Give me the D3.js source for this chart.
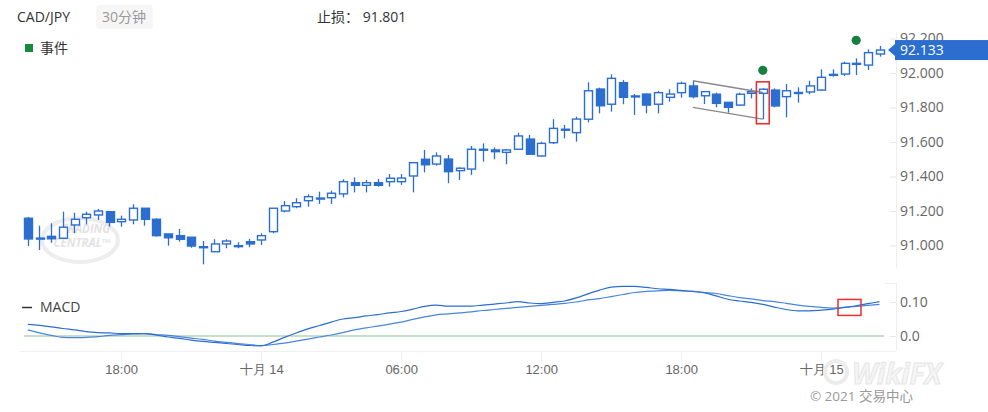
<!DOCTYPE html>
<html>
<head>
<meta charset="utf-8">
<script src="https://cdn.jsdelivr.net/npm/d3@7"></script>
<style>
  body { margin: 0; background: #fff; }
  svg { display: block; font-family: "Open Sans", "Noto Sans CJK SC", sans-serif; }
</style>
</head>
<body>
<svg id="chart" width="988" height="412"></svg>
<script>
// CAD/JPY 30 min candles, 2021-10-13 14:00 onwards
const symbol = 'CAD/JPY'
const period = '30分钟'
const stopLoss = 91.801
const startTime = '2021-10-13T14:00'

const open = [
  91.158, 91.043, 91.053, 91.042, 91.119, 91.161, 91.177, 91.196, 91.138, 91.148,
  91.216, 91.152, 91.067, 91.057, 91.048, 90.993, 90.964, 91.009, 90.999, 91.022,
  91.032, 91.080, 91.200, 91.225, 91.260, 91.275, 91.277, 91.299, 91.364, 91.349,
  91.364, 91.370, 91.370, 91.403, 91.500, 91.472, 91.501, 91.434, 91.443, 91.558,
  91.554, 91.540, 91.558, 91.617, 91.519, 91.596, 91.674, 91.654, 91.732, 91.907,
  91.819, 91.944, 91.867, 91.878, 91.819, 91.859, 91.886, 91.925, 91.868, 91.877,
  91.830, 91.814, 91.882, 91.882, 91.901, 91.863, 91.887, 91.890, 91.901, 91.992,
  91.994, 92.056, 92.046, 92.110
]
const high = [
  91.165, 91.115, 91.129, 91.196, 91.190, 91.196, 91.212, 91.200, 91.173, 91.239,
  91.217, 91.158, 91.067, 91.096, 91.049, 91.026, 91.036, 91.036, 91.019, 91.038,
  91.071, 91.216, 91.258, 91.274, 91.297, 91.312, 91.318, 91.384, 91.395, 91.380,
  91.386, 91.414, 91.414, 91.480, 91.554, 91.540, 91.525, 91.453, 91.577, 91.592,
  91.569, 91.558, 91.654, 91.641, 91.602, 91.732, 91.699, 91.747, 91.946, 91.915,
  91.992, 91.959, 91.878, 91.881, 91.896, 91.906, 91.950, 91.954, 91.896, 91.886,
  91.832, 91.886, 91.911, 91.911, 91.911, 91.936, 91.917, 91.955, 92.021, 92.021,
  92.066, 92.085, 92.137, 92.157
]
const low = [
  90.997, 90.974, 91.016, 91.040, 91.071, 91.123, 91.148, 91.109, 91.109, 91.123,
  91.115, 91.052, 90.999, 91.022, 90.987, 90.891, 90.964, 90.984, 90.984, 90.990,
  91.003, 91.071, 91.192, 91.216, 91.225, 91.241, 91.241, 91.279, 91.308, 91.308,
  91.341, 91.341, 91.351, 91.308, 91.424, 91.463, 91.361, 91.380, 91.409, 91.486,
  91.500, 91.471, 91.554, 91.525, 91.515, 91.588, 91.621, 91.602, 91.714, 91.766,
  91.776, 91.819, 91.757, 91.766, 91.766, 91.834, 91.857, 91.853, 91.820, 91.801,
  91.770, 91.809, 91.853, 91.732, 91.801, 91.743, 91.828, 91.877, 91.896, 91.979,
  91.983, 91.988, 92.017, 92.095
]
const close = [
  91.038, 91.042, 91.039, 91.106, 91.152, 91.181, 91.200, 91.134, 91.152, 91.216,
  91.152, 91.057, 91.045, 91.036, 90.997, 90.993, 91.009, 91.026, 90.999, 91.009,
  91.057, 91.216, 91.231, 91.248, 91.283, 91.274, 91.303, 91.370, 91.349, 91.364,
  91.349, 91.390, 91.391, 91.480, 91.468, 91.519, 91.428, 91.448, 91.558, 91.558,
  91.544, 91.554, 91.635, 91.529, 91.592, 91.679, 91.674, 91.733, 91.897, 91.810,
  91.969, 91.859, 91.867, 91.814, 91.886, 91.878, 91.940, 91.863, 91.892, 91.824,
  91.801, 91.877, 91.892, 91.906, 91.809, 91.897, 91.886, 91.925, 91.975, 91.992,
  92.056, 92.056, 92.118, 92.133
]

const macd = [
  0.034, 0.031, 0.027, 0.022, 0.018, 0.013, 0.010, 0.009, 0.007, 0.007,
  0.007, 0.003, -0.003, -0.007, -0.012, -0.016, -0.019, -0.022, -0.025, -0.028,
  -0.029, -0.018, -0.004, 0.009, 0.021, 0.031, 0.041, 0.050, 0.054, 0.059,
  0.063, 0.068, 0.072, 0.079, 0.087, 0.091, 0.088, 0.088, 0.088, 0.091,
  0.094, 0.097, 0.101, 0.097, 0.095, 0.099, 0.103, 0.112, 0.124, 0.135,
  0.144, 0.146, 0.146, 0.143, 0.139, 0.137, 0.134, 0.131, 0.127, 0.118,
  0.108, 0.103, 0.099, 0.093, 0.085, 0.078, 0.074, 0.074, 0.076, 0.079,
  0.084, 0.089, 0.095, 0.101
]
const signal = [
  0.018, 0.009, 0.002, -0.004, -0.005, -0.004, -0.002, 0.002, 0.004, 0.006,
  0.007, 0.004, 0.002, -0.002, -0.006, -0.010, -0.015, -0.019, -0.022, -0.025,
  -0.028, -0.025, -0.021, -0.015, -0.009, -0.003, 0.003, 0.010, 0.018, 0.024,
  0.029, 0.035, 0.041, 0.049, 0.056, 0.062, 0.065, 0.068, 0.071, 0.075,
  0.078, 0.081, 0.084, 0.087, 0.090, 0.093, 0.096, 0.100, 0.106, 0.110,
  0.116, 0.122, 0.128, 0.131, 0.133, 0.134, 0.133, 0.131, 0.128, 0.125,
  0.119, 0.113, 0.109, 0.104, 0.101, 0.096, 0.091, 0.087, 0.084, 0.082,
  0.084, 0.087, 0.090, 0.093
]

const priceTicks = [91.0, 91.2, 91.4, 91.6, 91.8, 92.0, 92.2]
const macdTicks = [0, 0.1]
const timeTicks = ['2021-10-13T18:00', '2021-10-14T00:00', '2021-10-14T06:00',
                   '2021-10-14T12:00', '2021-10-14T18:00', '2021-10-15T00:00']
const eventCandles = [63, 71]          // green event dots
const markedCandle = 63                // red box
const channelUpper = [[57, 91.955], [63, 91.887]]
const channelLower = [[57, 91.801], [63, 91.733]]
const macdCross = 70

const blue = '#2c6ed0'
const svg = d3.select('#chart')
const parse = d3.timeParse('%Y-%m-%dT%H:%M')
const t0 = parse(startTime)
const times = open.map((d, i) => d3.timeMinute.offset(t0, 30 * i))
const candles = open.map((o, i) => ({i, t: times[i], o, h: high[i], l: low[i], c: close[i]}))

// scales
let x = d3.scaleTime().domain([times[0], times[times.length - 1]]).range([27.8, 879.5])
let y = d3.scaleLinear().domain([91.0, 92.2]).range([245.5, 38.5])
let yM = d3.scaleLinear().domain([0, 0.1]).range([336, 302])
const step = x(times[1]) - x(times[0])
const bw = step * 0.66
const xi = i => x(times[i])

// header
svg.append('text').attr('x', 17).attr('y', 22).attr('font-size', 14).attr('fill', '#333').text(symbol)
svg.append('rect').attr('x', 96).attr('y', 5).attr('width', 57).attr('height', 24).attr('rx', 4).attr('fill', '#f6f6f6')
svg.append('text').attr('x', 102).attr('y', 22).attr('font-size', 14).attr('fill', '#999').text(period)
svg.append('text').attr('x', 317).attr('y', 22).attr('font-size', 14).attr('fill', '#333')
  .text('止损： ' + stopLoss.toFixed(3))
svg.append('rect').attr('x', 25).attr('y', 44).attr('width', 8).attr('height', 8).attr('fill', '#178a40')
svg.append('text').attr('x', 40).attr('y', 53).attr('font-size', 14).attr('fill', '#333').text('事件')

// trading central watermark
let wm = svg.append('g')
wm.append('ellipse').attr('cx', 80).attr('cy', 240).attr('rx', 38).attr('ry', 22)
  .attr('fill', 'none').attr('stroke', '#ededed').attr('stroke-width', 4)
wm.append('text').attr('x', 86).attr('y', 233).attr('text-anchor', 'middle').attr('font-size', 11.5)
  .attr('font-weight', 'bold').attr('font-style', 'italic').attr('fill', '#e3e3e3').text('TRADING')
wm.append('text').attr('x', 82).attr('y', 247).attr('text-anchor', 'middle').attr('font-size', 11.5)
  .attr('font-weight', 'bold').attr('font-style', 'italic').attr('fill', '#e3e3e3').text('CENTRAL™')

// axis frame lines
svg.append('line').attr('x1', 896.5).attr('x2', 896.5).attr('y1', 33).attr('y2', 268).attr('stroke', '#eee')
svg.append('line').attr('x1', 896.5).attr('x2', 896.5).attr('y1', 283).attr('y2', 351).attr('stroke', '#eee')
svg.append('line').attr('x1', 884).attr('x2', 896).attr('y1', 283.5).attr('y2', 283.5).attr('stroke', '#eee')
svg.append('line').attr('x1', 20).attr('x2', 896).attr('y1', 351.5).attr('y2', 351.5).attr('stroke', '#f0f0f0')

// price axis
let yAxis = d3.axisRight(y).tickValues(priceTicks).tickFormat(d3.format('.3f')).tickSize(6).tickPadding(4)
let ga = svg.append('g').attr('transform', 'translate(890,0)').call(yAxis)
ga.select('.domain').remove()
ga.selectAll('line').attr('stroke', '#e6e6e6')
ga.selectAll('text').attr('fill', '#666').attr('font-size', 14).attr('font-family', 'Open Sans')

// macd axis
let mAxis = d3.axisRight(yM).tickValues(macdTicks).tickFormat(d => d === 0 ? '0.0' : d.toFixed(2)).tickSize(6).tickPadding(4)
let gm = svg.append('g').attr('transform', 'translate(890,0)').call(mAxis)
gm.select('.domain').remove()
gm.selectAll('line').attr('stroke', '#e6e6e6')
gm.selectAll('text').attr('fill', '#666').attr('font-size', 14).attr('font-family', 'Open Sans')

// time axis
const fmtHM = d3.timeFormat('%H:%M')
let xAxis = d3.axisBottom(x).tickValues(timeTicks.map(parse))
  .tickFormat(d => d.getHours() === 0 ? '十月 ' + d.getDate() : fmtHM(d))
  .tickSize(12).tickPadding(2)
let gx = svg.append('g').attr('transform', 'translate(0,351)').call(xAxis)
gx.select('.domain').remove()
gx.selectAll('line').attr('stroke', '#f0f0f0')
gx.selectAll('text').attr('fill', '#666').attr('font-size', 13)

// candles
let gc = svg.append('g')
gc.selectAll('line.wick').data(candles).enter().append('line')
  .attr('x1', d => Math.round(x(d.t)) + 0.5).attr('x2', d => Math.round(x(d.t)) + 0.5)
  .attr('y1', d => y(d.h)).attr('y2', d => y(d.l))
  .attr('stroke', blue).attr('stroke-width', 1.3)
gc.selectAll('rect.body').data(candles).enter().append('rect')
  .attr('x', d => Math.round(x(d.t) - bw / 2) + 0.5)
  .attr('width', Math.round(bw))
  .attr('y', d => y(Math.max(d.o, d.c)))
  .attr('height', d => Math.max(1, Math.abs(y(d.o) - y(d.c))))
  .attr('fill', d => d.c > d.o ? '#fff' : blue)
  .attr('stroke', blue).attr('stroke-width', 1.4)

// channel drawn on chart
const lineP = d3.line().x(d => xi(d[0])).y(d => y(d[1]))
;[channelUpper, channelLower].forEach(seg => {
  svg.append('path').attr('d', lineP(seg)).attr('fill', 'none').attr('stroke', '#8a8a8a').attr('stroke-width', 1.3)
})

// marked candle box
let mc = candles[markedCandle]
svg.append('rect')
  .attr('x', xi(markedCandle) - step * 0.55).attr('width', step * 1.1)
  .attr('y', y(mc.h) - 6.5).attr('height', y(mc.l) - y(mc.h) + 11)
  .attr('fill', 'none').attr('stroke', '#e83030').attr('stroke-width', 1.6)

// events
svg.selectAll('circle.ev').data(eventCandles).enter().append('circle')
  .attr('cx', i => xi(i)).attr('cy', i => y(high[i]) - 18).attr('r', 4.6).attr('fill', '#168040')

// last price label
const last = close[close.length - 1]
let ly = y(last)
svg.append('path').attr('d', `M888,${ly} L895,${ly - 6} L895,${ly + 6} Z`).attr('fill', blue)
svg.append('rect').attr('x', 895).attr('y', ly - 10).attr('width', 93).attr('height', 20).attr('fill', blue)
svg.append('text').attr('x', 900).attr('y', ly + 5).attr('font-size', 14).attr('fill', '#fff')
  .attr('font-family', 'Open Sans').text(last.toFixed(3))

// MACD panel
svg.append('line').attr('x1', 22).attr('x2', 32).attr('y1', 307.5).attr('y2', 307.5).attr('stroke', '#333').attr('stroke-width', 1.5)
svg.append('text').attr('x', 40).attr('y', 312).attr('font-size', 14).attr('fill', '#444').text('MACD')
svg.append('line').attr('x1', 24).attr('x2', 884).attr('y1', yM(0)).attr('y2', yM(0))
  .attr('stroke', '#c8dec8').attr('stroke-width', 2)
const mline = d3.line().x((d, i) => xi(i)).y(d => yM(d)).curve(d3.curveMonotoneX)
svg.append('path').attr('d', mline(signal)).attr('fill', 'none').attr('stroke', '#4a85dc').attr('stroke-width', 1.2)
svg.append('path').attr('d', mline(macd)).attr('fill', 'none').attr('stroke', '#2c6ed0').attr('stroke-width', 1.2)
let cy = yM((macd[macdCross] + signal[macdCross]) / 2)
svg.append('rect').attr('x', xi(macdCross) - 6.5).attr('width', 23).attr('y', cy - 8).attr('height', 16)
  .attr('fill', 'none').attr('stroke', '#e83030').attr('stroke-width', 1.5)

// footer watermark
let wf = svg.append('g')
wf.append('circle').attr('cx', 836).attr('cy', 372).attr('r', 11).attr('fill', 'none').attr('stroke', '#ececec').attr('stroke-width', 4)
wf.append('text').attr('x', 852).attr('y', 384).attr('font-size', 28).attr('font-weight', 'bold').attr('font-style', 'italic')
  .attr('fill', '#f5f5f5').attr('stroke', '#e6e6e6').attr('stroke-width', 1).text('WikiFX')
svg.append('text').attr('x', 913).attr('y', 401).attr('text-anchor', 'end').attr('font-size', 13.5).attr('fill', '#999')
  .text('© 2021 交易中心')
</script>
</body>
</html>
